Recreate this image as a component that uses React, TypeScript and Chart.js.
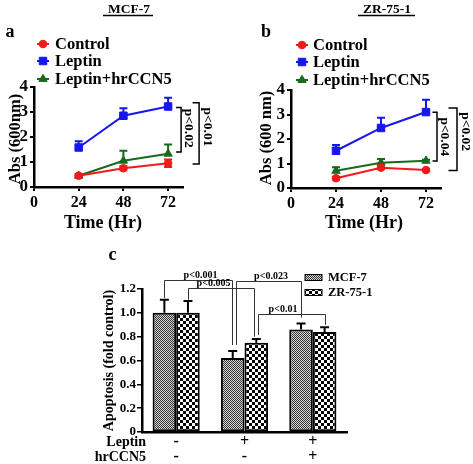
import React, { useEffect, useRef } from 'react';
import { Chart, registerables } from 'chart.js';

Chart.register(...registerables);

const FONT = "'Liberation Serif', 'Times New Roman', serif";

// ---------- data ----------
const timePoints = [24, 48, 72];
const timeTicks = [0, 24, 48, 72];
const seriesNames = ['Control', 'Leptin', 'Leptin+hrCCN5'];

const mcfControl = [0.45, 0.75, 0.95];
const mcfControlErr = [0.05, 0.08, 0.15];
const mcfLeptin = [1.58, 2.85, 3.22];
const mcfLeptinErr = [0.25, 0.3, 0.35];
const mcfCombo = [0.45, 1.05, 1.33];
const mcfComboErr = [0.05, 0.4, 0.37];

const zrControl = [0.4, 0.83, 0.73];
const zrControlErr = [0.05, 0.05, 0.04];
const zrLeptin = [1.52, 2.45, 3.1];
const zrLeptinErr = [0.24, 0.42, 0.5];
const zrCombo = [0.7, 1.03, 1.11];
const zrComboErr = [0.15, 0.15, 0.04];

const apoGroups = ['Control', 'Leptin', 'Leptin+hrCCN5'];
const apoSeriesNames = ['MCF-7', 'ZR-75-1'];
const leptinSigns = ['-', '+', '+'];
const ccn5Signs = ['-', '-', '+'];
const apoMcf = [1.0, 0.62, 0.86];
const apoMcfErr = [0.11, 0.06, 0.05];
const apoZr = [1.0, 0.75, 0.84];
const apoZrErr = [0.1, 0.03, 0.04];

// ---------- styles ----------
const RED = '#f01a1a';
const BLUE = '#1616f0';
const GREEN = '#176a1c';

type PointStyle = 'circle' | 'rect' | 'triangle';
type SeriesCfg = {
  name: string;
  values: number[];
  err: number[];
  color: string;
  point: PointStyle;
  radius: number;
  both: boolean;
};

type BracketCfg = { top: number; bottom: number; dx: number; cap: number; label: string; labelDx: number; labelY: number };

type LinePanelCfg = {
  width: number;
  height: number;
  padLeft: number;
  padTop: number;
  padRight: number;
  yWidth: number;
  xHeight: number;
  series: SeriesCfg[];
  letter: string;
  letterX: number;
  cellLine: string;
  cellX: number;
  underline: [number, number];
  legendMarkerX: number;
  legendTextX: number;
  legendY: number[];
  yTitle: string;
  yTitleX: number;
  yTitleY: number;
  xTitleX: number;
  xTitleY: number;
  brackets: BracketCfg[];
};

function drawMarker(ctx: CanvasRenderingContext2D, style: PointStyle, x: number, y: number, r: number, color: string) {
  ctx.save();
  ctx.fillStyle = color;
  ctx.strokeStyle = color;
  ctx.lineWidth = 1;
  ctx.beginPath();
  if (style === 'circle') {
    ctx.arc(x, y, r, 0, Math.PI * 2);
  } else if (style === 'rect') {
    const h = r * Math.SQRT1_2;
    ctx.rect(x - h, y - h, 2 * h, 2 * h);
  } else {
    for (let k = 0; k < 3; k++) {
      const a = (k * 2 * Math.PI) / 3;
      const px = x + Math.sin(a) * r;
      const py = y - Math.cos(a) * r;
      if (k === 0) ctx.moveTo(px, py);
      else ctx.lineTo(px, py);
    }
  }
  ctx.closePath();
  ctx.fill();
  ctx.stroke();
  ctx.restore();
}

function buildLineChart(canvas: HTMLCanvasElement, cfg: LinePanelCfg) {
  const plugin = {
    id: 'lineExtras',
    beforeDatasetsDraw(chart: any) {
      const ctx: CanvasRenderingContext2D = chart.ctx;
      const xs = chart.scales.x;
      const ys = chart.scales.y;
      cfg.series.forEach((s) => {
        ctx.save();
        ctx.strokeStyle = s.color;
        ctx.lineWidth = 2;
        s.values.forEach((v, i) => {
          const x = xs.getPixelForValue(timePoints[i]);
          const yc = ys.getPixelForValue(v);
          const yt = ys.getPixelForValue(v + s.err[i]);
          const yb = s.both ? ys.getPixelForValue(v - s.err[i]) : yc;
          ctx.beginPath();
          ctx.moveTo(x, yb);
          ctx.lineTo(x, yt);
          ctx.moveTo(x - 4, yt);
          ctx.lineTo(x + 4, yt);
          if (s.both) {
            ctx.moveTo(x - 4, yb);
            ctx.lineTo(x + 4, yb);
          }
          ctx.stroke();
        });
        ctx.restore();
      });
    },
    afterDraw(chart: any) {
      const ctx: CanvasRenderingContext2D = chart.ctx;
      const xs = chart.scales.x;
      const ys = chart.scales.y;
      ctx.save();
      ctx.fillStyle = '#000';
      ctx.strokeStyle = '#000';
      // panel letter
      ctx.font = `bold 18px ${FONT}`;
      ctx.textAlign = 'center';
      ctx.textBaseline = 'alphabetic';
      ctx.fillText(cfg.letter, cfg.letterX, 37);
      // cell line title
      ctx.font = `bold 13.5px ${FONT}`;
      ctx.fillText(cfg.cellLine, cfg.cellX, 13);
      ctx.lineWidth = 1.5;
      ctx.beginPath();
      ctx.moveTo(cfg.underline[0], 15.5);
      ctx.lineTo(cfg.underline[1], 15.5);
      ctx.stroke();
      // legend
      cfg.series.forEach((s, i) => {
        const y = cfg.legendY[i];
        ctx.strokeStyle = s.color;
        ctx.lineWidth = 2;
        ctx.beginPath();
        ctx.moveTo(cfg.legendMarkerX - 6, y);
        ctx.lineTo(cfg.legendMarkerX + 6, y);
        ctx.stroke();
        drawMarker(ctx, s.point, cfg.legendMarkerX, y, s.radius, s.color);
        ctx.fillStyle = '#000';
        ctx.font = `bold 16.5px ${FONT}`;
        ctx.textAlign = 'left';
        ctx.textBaseline = 'middle';
        ctx.fillText(s.name, cfg.legendTextX, y + 1);
      });
      // axis titles
      ctx.fillStyle = '#000';
      ctx.font = `bold 18px ${FONT}`;
      ctx.textAlign = 'center';
      ctx.textBaseline = 'middle';
      ctx.fillText('Time (Hr)', cfg.xTitleX, cfg.xTitleY);
      ctx.save();
      ctx.translate(cfg.yTitleX, cfg.yTitleY);
      ctx.rotate(-Math.PI / 2);
      ctx.font = `bold 16.5px ${FONT}`;
      ctx.fillText(cfg.yTitle, 0, 0);
      ctx.restore();
      // significance brackets
      const xRef = xs.getPixelForValue(timePoints[timePoints.length - 1]);
      cfg.brackets.forEach((b) => {
        const x = xRef + b.dx;
        const yTop = ys.getPixelForValue(b.top);
        const yBot = ys.getPixelForValue(b.bottom);
        ctx.strokeStyle = '#000';
        ctx.lineWidth = 1.5;
        ctx.beginPath();
        ctx.moveTo(x - b.cap, yTop);
        ctx.lineTo(x, yTop);
        ctx.lineTo(x, yBot);
        ctx.lineTo(x - b.cap, yBot);
        ctx.stroke();
        ctx.save();
        ctx.translate(x + b.labelDx, ys.getPixelForValue(b.labelY));
        ctx.rotate(Math.PI / 2);
        ctx.font = `bold 13.5px ${FONT}`;
        ctx.textAlign = 'center';
        ctx.textBaseline = 'middle';
        ctx.fillText(b.label, 0, 0);
        ctx.restore();
      });
      ctx.restore();
    },
  };

  return new Chart(canvas, {
    type: 'line',
    data: {
      datasets: cfg.series.map((s) => ({
        label: s.name,
        data: timePoints.map((t, i) => ({ x: t, y: s.values[i] })),
        borderColor: s.color,
        backgroundColor: s.color,
        borderWidth: 2,
        pointStyle: s.point,
        pointRadius: s.radius,
        pointHoverRadius: s.radius,
        pointBorderWidth: 1,
        tension: 0,
      })),
    },
    options: {
      responsive: false,
      animation: false,
      events: [],
      layout: { padding: { left: cfg.padLeft, top: cfg.padTop, right: cfg.padRight, bottom: 0 } },
      plugins: { legend: { display: false }, tooltip: { enabled: false } },
      scales: {
        x: {
          type: 'linear',
          min: 0,
          max: 80,
          afterBuildTicks: (s: any) => {
            s.ticks = timeTicks.map((v) => ({ value: v }));
          },
          afterFit: (s: any) => {
            s.height = cfg.xHeight;
          },
          grid: { display: true, drawOnChartArea: false, drawTicks: true, tickLength: 4, color: '#000', lineWidth: 2 },
          border: { display: true, color: '#000', width: 2.5 },
          ticks: { autoSkip: false, maxRotation: 0, padding: 2, color: '#000', font: { family: FONT, size: 16, weight: 'bold' } },
        },
        y: {
          min: 0,
          max: 4,
          afterFit: (s: any) => {
            s.width = cfg.yWidth;
          },
          grid: { display: true, drawOnChartArea: false, drawTicks: true, tickLength: 4, color: '#000', lineWidth: 2 },
          border: { display: true, color: '#000', width: 2.5 },
          ticks: { stepSize: 1, padding: 2, color: '#000', font: { family: FONT, size: 17, weight: 'bold' } },
        },
      },
    } as any,
    plugins: [plugin],
  });
}

function makeSeries(values: number[][], errs: number[][]): SeriesCfg[] {
  const colors = [RED, BLUE, GREEN];
  const points: PointStyle[] = ['circle', 'rect', 'triangle'];
  const radii = [3.8, 5.3, 4.8];
  return seriesNames.map((name, i) => ({
    name,
    values: values[i],
    err: errs[i],
    color: colors[i],
    point: points[i],
    radius: radii[i],
    both: i === 0,
  }));
}

const panelA: LinePanelCfg = {
  width: 236,
  height: 240,
  padLeft: 0,
  padTop: 87,
  padRight: 53,
  yWidth: 34,
  xHeight: 53,
  series: makeSeries([mcfControl, mcfLeptin, mcfCombo], [mcfControlErr, mcfLeptinErr, mcfComboErr]),
  letter: 'a',
  letterX: 10,
  cellLine: 'MCF-7',
  cellX: 129,
  underline: [103, 153],
  legendMarkerX: 43,
  legendTextX: 55,
  legendY: [44, 61, 79],
  yTitle: 'Abs (600nm)',
  yTitleX: 16,
  yTitleY: 139,
  xTitleX: 103,
  xTitleY: 223,
  brackets: [
    { top: 3.18, bottom: 1.4, dx: 13, cap: 5, label: 'p<0.02', labelDx: 7.5, labelY: 2.35 },
    { top: 3.37, bottom: 0.92, dx: 31, cap: 6.5, label: 'p<0.01', labelDx: 8, labelY: 2.4 },
  ],
};

const panelB: LinePanelCfg = {
  width: 237,
  height: 240,
  padLeft: 21,
  padTop: 90,
  padRight: 32,
  yWidth: 34,
  xHeight: 52,
  series: makeSeries([zrControl, zrLeptin, zrCombo], [zrControlErr, zrLeptinErr, zrComboErr]),
  letter: 'b',
  letterX: 30,
  cellLine: 'ZR-75-1',
  cellX: 151,
  underline: [122, 179],
  legendMarkerX: 66,
  legendTextX: 77,
  legendY: [45, 62, 80],
  yTitle: 'Abs (600 nm)',
  yTitleX: 31,
  yTitleY: 138,
  xTitleX: 128,
  xTitleY: 223,
  brackets: [
    { top: 3.09, bottom: 1.1, dx: 11, cap: 4.5, label: 'p<0.04', labelDx: 7.5, labelY: 2.09 },
    { top: 3.27, bottom: 0.71, dx: 31, cap: 8.5, label: 'p<0.02', labelDx: 8, labelY: 2.3 },
  ],
};

type BarBracket = {
  label: string;
  a: [number, number];
  b: [number, number];
  level: number;
  aEnd: number;
  bEnd: number;
  aDx: number;
  bDx: number;
  textDx: number;
};

const apoBrackets: BarBracket[] = [
  { label: 'p<0.001', a: [0, 0], b: [0, 1], level: 1.275, aEnd: 1.125, bEnd: 0.73, aDx: 0, bDx: -1, textDx: 2 },
  { label: 'p<0.005', a: [1, 0], b: [1, 1], level: 1.208, aEnd: 1.11, bEnd: 0.8, aDx: 0, bDx: -2, textDx: -8 },
  { label: 'p<0.023', a: [0, 1], b: [0, 2], level: 1.265, aEnd: 0.73, bEnd: 0.96, aDx: 3, bDx: 0, textDx: 2 },
  { label: 'p<0.01', a: [1, 1], b: [1, 2], level: 0.99, aEnd: 0.815, bEnd: 0.9, aDx: 1.5, bDx: 0, textDx: -9 },
];

function makePattern(cell: number, dark: string, light: string): CanvasPattern {
  const c = document.createElement('canvas');
  c.width = cell * 2;
  c.height = cell * 2;
  const g = c.getContext('2d')!;
  g.fillStyle = light;
  g.fillRect(0, 0, cell * 2, cell * 2);
  g.fillStyle = dark;
  g.fillRect(0, 0, cell, cell);
  g.fillRect(cell, cell, cell, cell);
  return g.createPattern(c, 'repeat')!;
}

function buildBarChart(canvas: HTMLCanvasElement) {
  const patterns = [makePattern(1, '#333', '#d8d8d8'), makePattern(3, '#000', '#fff')];
  const values = [apoMcf, apoZr];
  const errs = [apoMcfErr, apoZrErr];

  const plugin = {
    id: 'barExtras',
    afterDatasetsDraw(chart: any) {
      const ctx: CanvasRenderingContext2D = chart.ctx;
      const ys = chart.scales.y;
      ctx.save();
      ctx.strokeStyle = '#000';
      ctx.lineWidth = 2;
      values.forEach((vals, d) => {
        const meta = chart.getDatasetMeta(d);
        vals.forEach((v, i) => {
          const el = meta.data[i];
          const yt = ys.getPixelForValue(v + errs[d][i]);
          ctx.beginPath();
          ctx.moveTo(el.x, el.y);
          ctx.lineTo(el.x, yt);
          ctx.moveTo(el.x - 4.5, yt);
          ctx.lineTo(el.x + 4.5, yt);
          ctx.stroke();
        });
      });
      ctx.restore();
    },
    afterDraw(chart: any) {
      const ctx: CanvasRenderingContext2D = chart.ctx;
      const ys = chart.scales.y;
      const xs = chart.scales.x;
      ctx.save();
      ctx.fillStyle = '#000';
      // panel letter
      ctx.font = `bold 18px ${FONT}`;
      ctx.textAlign = 'center';
      ctx.textBaseline = 'alphabetic';
      ctx.fillText('c', 112.5, 20);
      // y title
      ctx.save();
      ctx.translate(109, (chart.chartArea.top + chart.chartArea.bottom) / 2);
      ctx.rotate(-Math.PI / 2);
      ctx.font = `bold 14px ${FONT}`;
      ctx.textBaseline = 'middle';
      ctx.fillText('Apoptosis (fold control)', 0, 0);
      ctx.restore();
      // treatment rows
      ctx.font = `bold 14px ${FONT}`;
      ctx.textBaseline = 'middle';
      ctx.textAlign = 'right';
      ctx.fillText('Leptin', 146, 202);
      ctx.fillText('hrCCN5', 146, 217);
      ctx.textAlign = 'center';
      ctx.font = `bold 16px ${FONT}`;
      apoGroups.forEach((_, i) => {
        const x = xs.getPixelForValue(i);
        ctx.fillText(leptinSigns[i], x, 202);
        ctx.fillText(ccn5Signs[i], x, 217);
      });
      // legend
      apoSeriesNames.forEach((name, d) => {
        const y = d === 0 ? 37.5 : 52.5;
        ctx.fillStyle = patterns[d];
        ctx.fillRect(305, y - 3, 17, 6);
        ctx.strokeStyle = '#000';
        ctx.lineWidth = 1;
        ctx.strokeRect(305, y - 3, 17, 6);
        ctx.fillStyle = '#000';
        ctx.font = `bold 12.5px ${FONT}`;
        ctx.textAlign = 'left';
        ctx.textBaseline = 'middle';
        ctx.fillText(name, 328, y + 0.5);
      });
      // brackets
      ctx.strokeStyle = '#333';
      ctx.lineWidth = 1;
      apoBrackets.forEach((b) => {
        const ea = chart.getDatasetMeta(b.a[0]).data[b.a[1]];
        const eb = chart.getDatasetMeta(b.b[0]).data[b.b[1]];
        const xa = Math.round(ea.x + b.aDx) + 0.5;
        const xb = Math.round(eb.x + b.bDx) + 0.5;
        const yl = Math.round(ys.getPixelForValue(b.level)) + 0.5;
        ctx.beginPath();
        ctx.moveTo(xa, ys.getPixelForValue(b.aEnd));
        ctx.lineTo(xa, yl);
        ctx.lineTo(xb, yl);
        ctx.lineTo(xb, ys.getPixelForValue(b.bEnd));
        ctx.stroke();
        ctx.fillStyle = '#000';
        ctx.font = `bold 10px ${FONT}`;
        ctx.textAlign = 'center';
        ctx.textBaseline = 'alphabetic';
        ctx.fillText(b.label, (xa + xb) / 2 + b.textDx, yl - 3);
      });
      ctx.restore();
    },
  };

  return new Chart(canvas, {
    type: 'bar',
    data: {
      labels: apoGroups,
      datasets: apoSeriesNames.map((name, d) => ({
        label: name,
        data: values[d],
        backgroundColor: patterns[d],
        borderColor: '#000',
        borderWidth: 2,
        borderSkipped: false,
        categoryPercentage: 0.69,
        barPercentage: 1.0,
      })),
    },
    options: {
      responsive: false,
      animation: false,
      events: [],
      layout: { padding: { left: 100, top: 49, right: 126, bottom: 0 } },
      plugins: { legend: { display: false }, tooltip: { enabled: false } },
      scales: {
        x: {
          afterFit: (s: any) => {
            s.height = 32;
          },
          grid: { display: false },
          border: { display: true, color: '#000', width: 2.5 },
          ticks: { display: false },
        },
        y: {
          min: 0,
          max: 1.2,
          afterFit: (s: any) => {
            s.width = 42;
          },
          grid: { display: true, drawOnChartArea: false, drawTicks: true, tickLength: 5, color: '#000', lineWidth: 1.5 },
          border: { display: true, color: '#000', width: 2.5 },
          ticks: {
            stepSize: 0.2,
            padding: 1,
            color: '#000',
            font: { family: FONT, size: 13, weight: 'bold' },
            callback: (v: any) => (Math.abs(Number(v)) < 1e-9 ? '0' : Number(v).toFixed(1)),
          },
        },
      },
    } as any,
    plugins: [plugin],
  });
}

function ChartCanvas(props: { left: number; top: number; width: number; height: number; build: (c: HTMLCanvasElement) => Chart }) {
  const ref = useRef<HTMLCanvasElement>(null);
  const { left, top, width, height, build } = props;
  useEffect(() => {
    const chart = build(ref.current!);
    return () => chart.destroy();
  }, []);
  return (
    <canvas
      ref={ref}
      width={width}
      height={height}
      style={{ position: 'absolute', left, top, width, height, display: 'block' }}
    />
  );
}

export default function App() {
  return (
    <div style={{ position: 'absolute', left: 0, top: 0, width: 473, height: 464, background: '#fff', overflow: 'hidden' }}>
      <ChartCanvas left={0} top={0} width={panelA.width} height={panelA.height} build={(c) => buildLineChart(c, panelA)} />
      <ChartCanvas left={236} top={0} width={panelB.width} height={panelB.height} build={(c) => buildLineChart(c, panelB)} />
      <ChartCanvas left={0} top={240} width={473} height={224} build={buildBarChart} />
    </div>
  );
}
